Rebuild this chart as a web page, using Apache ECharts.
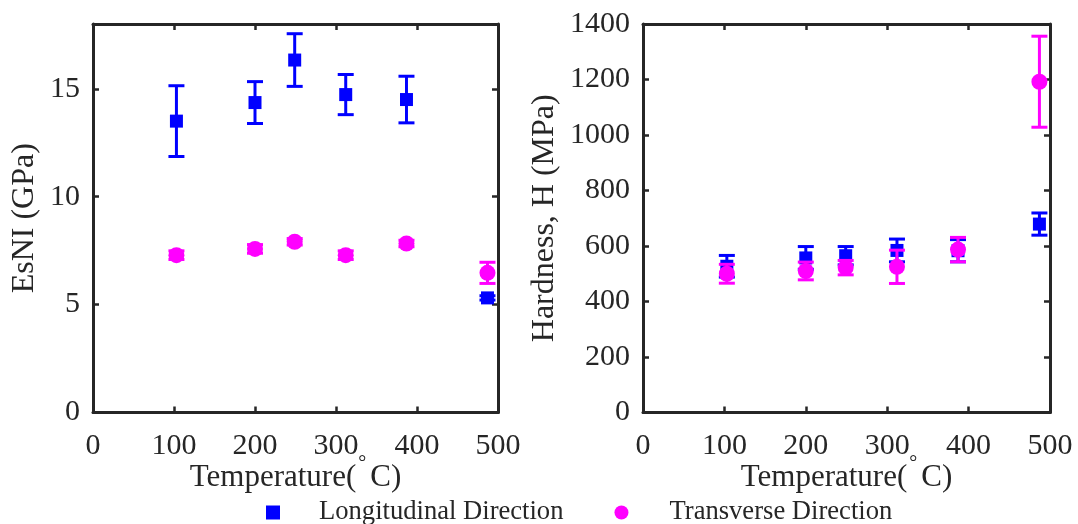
<!DOCTYPE html>
<html>
<head>
<meta charset="utf-8">
<script src="https://cdn.jsdelivr.net/npm/echarts@6/dist/echarts.min.js"></script>
<style>
  html, body { margin: 0; padding: 0; background: #ffffff; }
  #chart { width: 1078px; height: 524px; }
</style>
</head>
<body>
<div id="chart"></div>
<script>
// Annealing temperatures (°C)
const temps = [103, 200, 249, 312, 387, 487];

// EsNI modulus (GPa), mean and half-range of the error bar
const esniLong = [13.5, 14.36, 16.33, 14.73, 14.5, 5.31];
const esniLongErr = [1.64, 0.97, 1.22, 0.93, 1.08, 0.1];
const esniTrans = [7.29, 7.58, 7.91, 7.29, 7.83, 6.47];
const esniTransErr = [0.2, 0.2, 0.15, 0.2, 0.15, 0.49];

// Hardness H (MPa), mean and half-range of the error bar
const hardLong = [527, 557, 565, 584, 583, 679];
const hardLongErr = [39, 41, 33, 41, 40, 40];
const hardTrans = [500, 510, 522, 525, 587, 1192];
const hardTransErr = [34, 32, 26, 60, 44, 164];

const xTicks = [0, 100, 200, 300, 400, 500];
const esniTicks = [0, 5, 10, 15];
const hardTicks = [0, 200, 400, 600, 800, 1000, 1200, 1400];

const seriesNames = ['Longitudinal Direction', 'Transverse Direction'];

const BLUE = '#0000ff';
const MAGENTA = '#ff00ff';
const AXIS = '#262626';
const FONT = '"Liberation Serif", "Times New Roman", serif';

const chart = echarts.init(document.getElementById('chart'), null, { renderer: 'canvas' });

function rows(vals, errs) {
  return temps.map((t, i) => errs ? [t, vals[i], errs[i]] : [t, vals[i]]);
}

// vertical error bar with caps, drawn through the axis scales
function errorBar(color) {
  return function (params, api) {
    const x = api.value(0), y = api.value(1), e = api.value(2);
    const top = api.coord([x, y + e]);
    const bot = api.coord([x, y - e]);
    const half = 8;
    const st = { stroke: color, lineWidth: 3 };
    return {
      type: 'group',
      children: [
        { type: 'line', shape: { x1: top[0], y1: top[1], x2: bot[0], y2: bot[1] }, style: st },
        { type: 'line', shape: { x1: top[0] - half, y1: top[1], x2: top[0] + half, y2: top[1] }, style: st },
        { type: 'line', shape: { x1: bot[0] - half, y1: bot[1], x2: bot[0] + half, y2: bot[1] }, style: st }
      ]
    };
  };
}

// axis title with a raised degree ring
const titleRich = {
  a: { fontFamily: FONT, fontSize: 31, color: AXIS },
  d: { fontFamily: FONT, fontSize: 20, color: AXIS, padding: [0, 4, 29, 2] }
};
const tempName = '{a|Temperature(}{d|°}{a|C)}';

const tickStyle = { show: true, inside: true, length: 6, lineStyle: { color: AXIS, width: 2.5 } };
const lineStyle = { show: true, onZero: false, lineStyle: { color: AXIS, width: 3 } };

function xAxisPair(gridIndex) {
  return [
    {
      type: 'value', gridIndex, min: 0, max: 500, interval: 100, position: 'bottom',
      name: tempName, nameLocation: 'middle', nameGap: 41, nameMoveOverlap: false,
      nameTextStyle: { rich: titleRich },
      axisLine: lineStyle,
      axisTick: tickStyle,
      axisLabel: { fontFamily: FONT, fontSize: 30, color: AXIS, margin: 19,
                   formatter: v => xTicks.includes(v) ? String(v) : '' },
      splitLine: { show: false }
    },
    {
      type: 'value', gridIndex, min: 0, max: 500, interval: 100, position: 'top',
      axisLine: lineStyle,
      axisTick: tickStyle,
      axisLabel: { show: false },
      splitLine: { show: false }
    }
  ];
}

function yAxisPair(gridIndex, max, interval, ticks, name, gap) {
  return [
    {
      type: 'value', gridIndex, min: 0, max, interval, position: 'left',
      name, nameLocation: 'middle', nameGap: gap, nameMoveOverlap: false,
      nameTextStyle: { fontFamily: FONT, fontSize: 32, color: AXIS },
      axisLine: lineStyle,
      axisTick: tickStyle,
      axisLabel: { fontFamily: FONT, fontSize: 30, color: AXIS, margin: 13,
                   formatter: v => ticks.includes(v) ? String(v) : '' },
      splitLine: { show: false }
    },
    {
      type: 'value', gridIndex, min: 0, max, interval, position: 'right',
      axisLine: lineStyle,
      axisTick: tickStyle,
      axisLabel: { show: false },
      splitLine: { show: false }
    }
  ];
}

function panelSeries(idxX, idxY, longVals, longErr, transVals, transErr) {
  return [
    { type: 'custom', xAxisIndex: idxX, yAxisIndex: idxY, renderItem: errorBar(BLUE),
      data: rows(longVals, longErr), z: 2, silent: true },
    { type: 'scatter', name: seriesNames[0], xAxisIndex: idxX, yAxisIndex: idxY,
      symbol: 'rect', symbolSize: 13, itemStyle: { color: BLUE, opacity: 1 },
      data: rows(longVals), z: 3 },
    { type: 'custom', xAxisIndex: idxX, yAxisIndex: idxY, renderItem: errorBar(MAGENTA),
      data: rows(transVals, transErr), z: 4, silent: true },
    { type: 'scatter', name: seriesNames[1], xAxisIndex: idxX, yAxisIndex: idxY,
      symbol: 'circle', symbolSize: 16, itemStyle: { color: MAGENTA, opacity: 1 },
      data: rows(transVals), z: 5 }
  ];
}

const legendText = { fontFamily: FONT, fontSize: 26.6, color: AXIS };

const option = {
  backgroundColor: '#ffffff',
  animation: false,
  grid: [
    { left: 93, right: 580, top: 24, bottom: 111.5 },
    { left: 643, right: 28, top: 24, bottom: 111.5 }
  ],
  xAxis: [...xAxisPair(0), ...xAxisPair(1)],
  yAxis: [
    ...yAxisPair(0, 18, 5, esniTicks, 'EsNI (GPa)', 52),
    ...yAxisPair(1, 1400, 200, hardTicks, 'Hardness, H (MPa)', 82)
  ],
  legend: {
    top: 494,
    left: 261,
    itemGap: 51,
    itemWidth: 14,
    itemHeight: 14,
    textStyle: Object.assign({ padding: [0, 0, 0, 34] }, legendText),
    data: [
      { name: seriesNames[0], icon: 'rect' },
      { name: seriesNames[1], icon: 'circle',
        textStyle: Object.assign({ padding: [0, 0, 0, 36] }, legendText) }
    ]
  },
  series: [
    ...panelSeries(0, 0, esniLong, esniLongErr, esniTrans, esniTransErr),
    ...panelSeries(2, 2, hardLong, hardLongErr, hardTrans, hardTransErr)
  ]
};

chart.setOption(option);
</script>
</body>
</html>
